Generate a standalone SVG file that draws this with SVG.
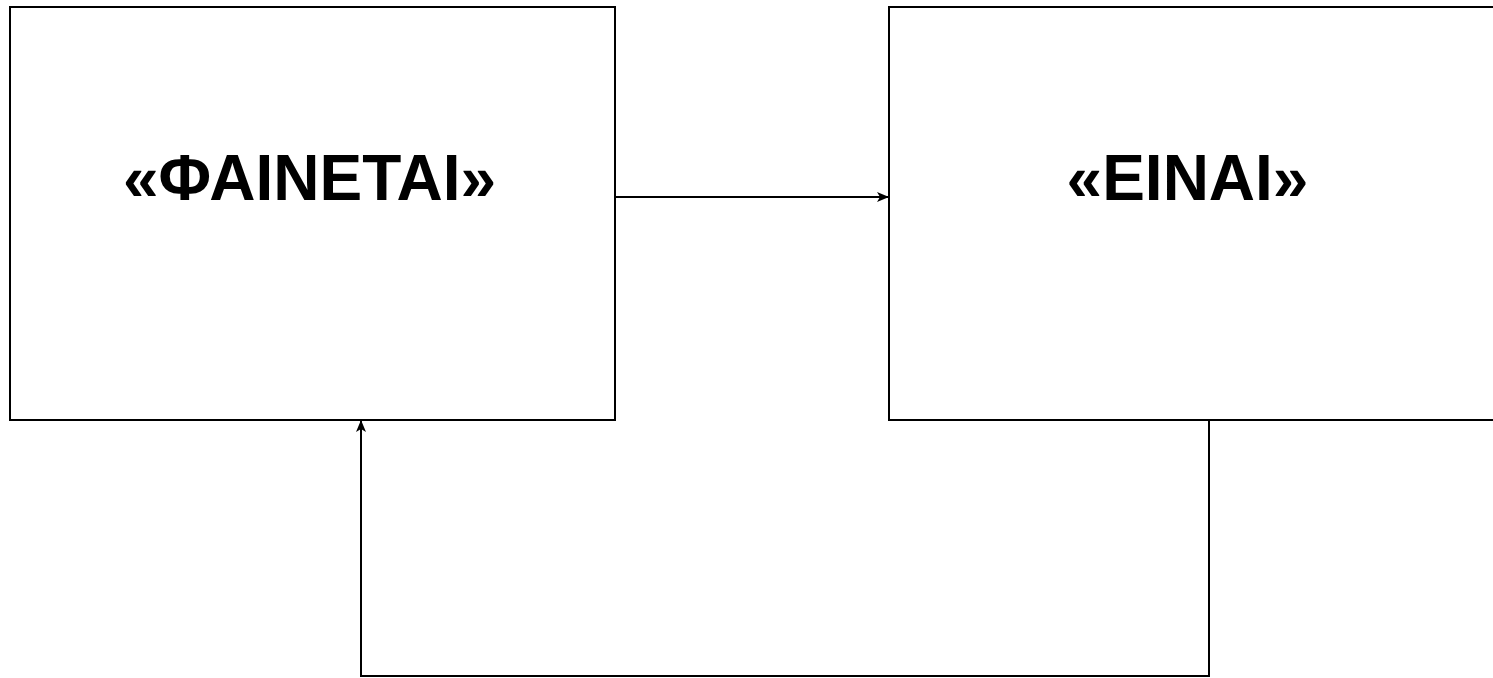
<svg xmlns="http://www.w3.org/2000/svg" width="1493" height="678" viewBox="0 0 1493 678">
<defs>
<style>
.box{fill:#fff;stroke:#000;stroke-width:2}
.lbl{font-family:"Liberation Sans",Arial,sans-serif;font-weight:bold;font-size:64px;fill:#000;text-anchor:middle}
.edge{fill:none;stroke:#000;stroke-width:2}
</style>
<marker id="arr" viewBox="0 0 12 10" refX="11" refY="5" markerWidth="12" markerHeight="10" markerUnits="userSpaceOnUse" orient="auto">
<path d="M0,0 L12,5 L0,10 L3,5 Z" fill="#000"/>
</marker>
</defs>
<rect width="1493" height="678" fill="#fff"/>
<g id="connectors">
<path class="edge" d="M616,197 L888,197" marker-end="url(#arr)"/>
<path class="edge" d="M1209,421 L1209,676 L361,676 L361,421" marker-end="url(#arr)"/>
</g>
<g id="node-phainetai">
<rect class="box" x="10" y="7" width="605" height="413"/>
<text class="lbl" x="309.5" y="200">«ΦΑΙΝΕΤΑΙ»</text>
</g>
<g id="node-einai">
<rect class="box" x="889" y="7" width="606" height="413"/>
<text class="lbl" x="1187.5" y="200">«ΕΙΝΑΙ»</text>
</g>
</svg>
